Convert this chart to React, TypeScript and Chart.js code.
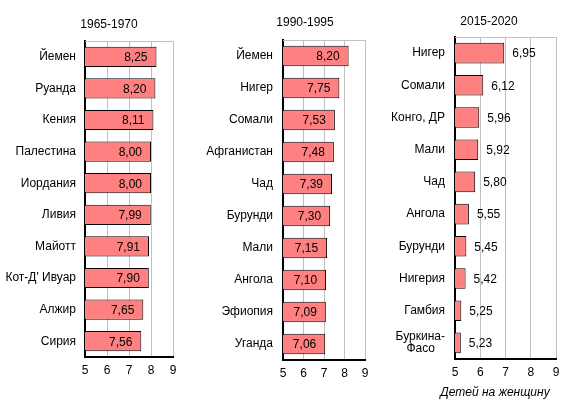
import React, { useEffect, useRef } from 'react';
import { Chart, registerables } from 'chart.js';

Chart.register(...registerables);

const FONT = 'Arial, "Liberation Sans", sans-serif';

// ---- Data ----
const X_TICKS = [5, 6, 7, 8, 9];
const AXIS_LABEL = 'Детей на женщину';

const TITLE_1 = '1965-1970';
const COUNTRIES_1 = ['Йемен', 'Руанда', 'Кения', 'Палестина', 'Иордания', 'Ливия', 'Майотт', "Кот-Д' Ивуар", 'Алжир', 'Сирия'];
const VALUES_1 = [8.25, 8.2, 8.11, 8.0, 8.0, 7.99, 7.91, 7.9, 7.65, 7.56];

const TITLE_2 = '1990-1995';
const COUNTRIES_2 = ['Йемен', 'Нигер', 'Сомали', 'Афганистан', 'Чад', 'Бурунди', 'Мали', 'Ангола', 'Эфиопия', 'Уганда'];
const VALUES_2 = [8.2, 7.75, 7.53, 7.48, 7.39, 7.3, 7.15, 7.1, 7.09, 7.06];

const TITLE_3 = '2015-2020';
const COUNTRIES_3: (string | string[])[] = ['Нигер', 'Сомали', 'Конго, ДР', 'Мали', 'Чад', 'Ангола', 'Бурунди', 'Нигерия', 'Гамбия', ['Буркина-', 'Фасо   ']];
const VALUES_3 = [6.95, 6.12, 5.96, 5.92, 5.8, 5.55, 5.45, 5.42, 5.25, 5.23];

// ---- Layout ----
const W = 576;
const H = 411;
const Y_AXIS_W = 80;
const X_AXIS_H = 20;

type Panel = {
  title: string;
  labels: (string | string[])[];
  values: number[];
  inside: boolean;
  left: number;
  right: number;
  top: number;
  bottom: number;
  titleX: number;
  titleY: number;
  yPad: number;
  axisLabel?: { text: string; x: number; y: number };
};

const PANELS: Panel[] = [
  { title: TITLE_1, labels: COUNTRIES_1, values: VALUES_1, inside: true, left: 85, right: 173, top: 41, bottom: 357, titleX: 109, titleY: 25, yPad: 9 },
  { title: TITLE_2, labels: COUNTRIES_2, values: VALUES_2, inside: true, left: 283, right: 365, top: 40, bottom: 360, titleX: 305, titleY: 23, yPad: 10 },
  {
    title: TITLE_3, labels: COUNTRIES_3, values: VALUES_3, inside: false, left: 455, right: 556, top: 37, bottom: 359, titleX: 489, titleY: 22, yPad: 10,
    axisLabel: { text: AXIS_LABEL, x: 495, y: 393 },
  },
];

const fmt = (v: number) => v.toFixed(2).replace('.', ',');

function makeConfig(p: Panel): any {
  const textPlugin = {
    id: 'panelText',
    afterDraw(chart: any) {
      const ctx = chart.ctx;
      ctx.save();
      ctx.fillStyle = '#000';
      ctx.textAlign = 'center';
      ctx.textBaseline = 'middle';
      ctx.font = `12px ${FONT}`;
      ctx.fillText(p.title, p.titleX, p.titleY);
      if (p.axisLabel) {
        ctx.font = `italic 12px ${FONT}`;
        ctx.fillText(p.axisLabel.text, p.axisLabel.x, p.axisLabel.y);
      }
      ctx.restore();
    },
  };
  const framePlugin = {
    id: 'frameTop',
    beforeDatasetsDraw(chart: any) {
      const { ctx, chartArea } = chart;
      ctx.save();
      ctx.strokeStyle = '#c0c0c0';
      ctx.lineWidth = 1;
      ctx.beginPath();
      ctx.moveTo(chartArea.left, Math.round(chartArea.top) + 0.5);
      ctx.lineTo(chartArea.right, Math.round(chartArea.top) + 0.5);
      ctx.stroke();
      ctx.restore();
    },
  };
  const valuePlugin = {
    id: 'valueLabels',
    afterDatasetsDraw(chart: any) {
      const ctx = chart.ctx;
      const meta = chart.getDatasetMeta(0);
      ctx.save();
      ctx.fillStyle = '#000';
      ctx.font = `12px ${FONT}`;
      ctx.textBaseline = 'middle';
      meta.data.forEach((bar: any, i: number) => {
        const v = p.values[i];
        if (p.inside) {
          ctx.textAlign = 'right';
          ctx.fillText(fmt(v), bar.x - 9, bar.y + 1);
        } else {
          ctx.textAlign = 'left';
          ctx.fillText(fmt(v), bar.x + 8, bar.y + 1);
        }
      });
      ctx.restore();
    },
  };

  return {
    type: 'bar',
    data: {
      labels: p.labels,
      datasets: [
        {
          data: p.values,
          backgroundColor: '#FF8080',
          borderColor: '#000000',
          borderWidth: 1,
          borderSkipped: false,
          categoryPercentage: 1,
          barPercentage: 0.64,
        },
      ],
    },
    options: {
      indexAxis: 'y',
      responsive: false,
      animation: false,
      events: [],
      layout: {
        padding: {
          left: p.left - Y_AXIS_W,
          right: W - p.right,
          top: p.top,
          bottom: H - p.bottom - X_AXIS_H,
        },
      },
      plugins: {
        legend: { display: false },
        title: { display: false },
        tooltip: { enabled: false },
      },
      scales: {
        x: {
          type: 'linear',
          min: 5,
          max: 9,
          afterBuildTicks: (scale: any) => {
            scale.ticks = X_TICKS.map((v) => ({ value: v }));
          },
          afterFit: (scale: any) => {
            scale.height = X_AXIS_H;
          },
          ticks: {
            color: '#000',
            font: { family: FONT, size: 12 },
            padding: 6,
            maxRotation: 0,
            callback: (v: any) => String(v),
          },
          grid: {
            drawTicks: false,
            color: (ctx: any) => (ctx.tick && ctx.tick.value === 5 ? 'rgba(0,0,0,0)' : '#c0c0c0'),
            lineWidth: 1,
          },
          border: { display: true, color: '#000', width: 2 },
        },
        y: {
          type: 'category',
          afterFit: (scale: any) => {
            scale.width = Y_AXIS_W;
          },
          ticks: {
            color: '#000',
            font: { family: FONT, size: 12, lineHeight: 1.0 },
            padding: p.yPad,
            autoSkip: false,
          },
          grid: { display: false, drawTicks: false },
          border: { display: true, color: '#000', width: 2 },
        },
      },
    },
    plugins: [framePlugin, valuePlugin, textPlugin],
  };
}

function PanelCanvas({ panel }: { panel: Panel }) {
  const ref = useRef<HTMLCanvasElement | null>(null);
  useEffect(() => {
    if (!ref.current) return;
    const chart = new Chart(ref.current, makeConfig(panel));
    return () => chart.destroy();
  }, [panel]);
  return (
    <canvas
      ref={ref}
      width={W}
      height={H}
      style={{ position: 'absolute', left: 0, top: 0, width: W, height: H }}
    />
  );
}

export default function App() {
  return (
    <div style={{ position: 'fixed', left: 0, top: 0, width: W, height: H, background: '#fff' }}>
      {PANELS.map((p, i) => (
        <PanelCanvas key={i} panel={p} />
      ))}
    </div>
  );
}
